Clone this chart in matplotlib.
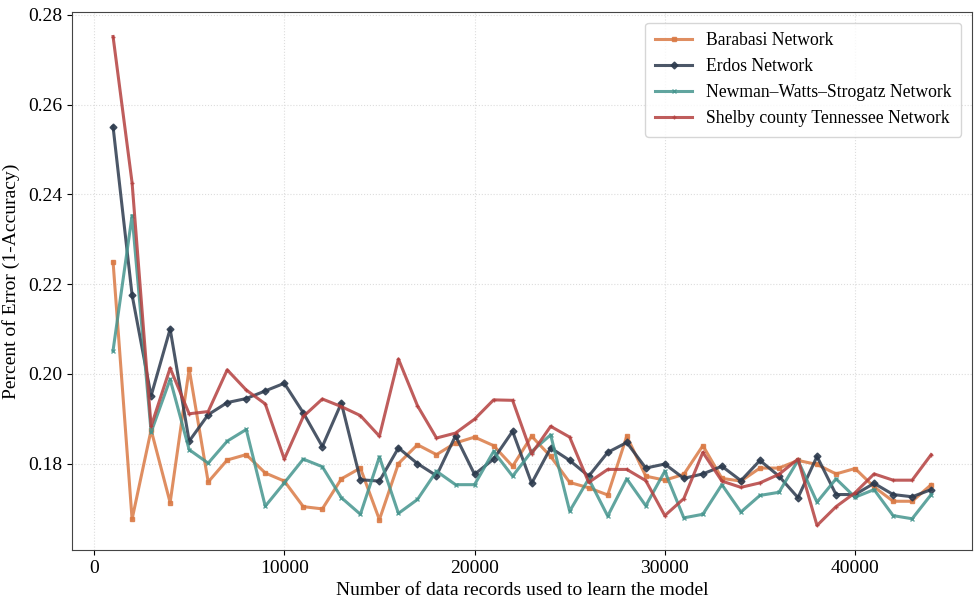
import matplotlib.pyplot as plt
import numpy as np

plt.rcParams['font.family'] = ['Liberation Serif', 'DejaVu Serif']

records = np.arange(1000, 45000, 1000)

barabasi = [0.225, 0.1676, 0.1875, 0.1713, 0.2011, 0.1759, 0.1808, 0.182, 0.1779, 0.1761,
            0.1704, 0.1699, 0.1766, 0.179, 0.1675, 0.180, 0.1842, 0.182, 0.1846, 0.1859,
            0.184, 0.1794, 0.1861, 0.1816, 0.1758, 0.1746, 0.173, 0.1861, 0.1772, 0.1763,
            0.1776, 0.184, 0.1767, 0.1761, 0.179, 0.179, 0.1807, 0.1798, 0.1777, 0.1789,
            0.1748, 0.1716, 0.1716, 0.1753]
erdos = [0.2551, 0.2176, 0.1951, 0.21, 0.185, 0.1909, 0.1936, 0.1945, 0.1962, 0.1979,
         0.1913, 0.1838, 0.1935, 0.1764, 0.1761, 0.1835, 0.18, 0.1773, 0.1862, 0.1776,
         0.181, 0.1872, 0.1756, 0.1835, 0.1807, 0.1772, 0.1825, 0.1847, 0.179, 0.1799,
         0.1767, 0.1777, 0.1794, 0.1762, 0.1807, 0.1772, 0.1724, 0.1816, 0.1731, 0.1731,
         0.1756, 0.1731, 0.1726, 0.1742]
newman = [0.2052, 0.2353, 0.187, 0.1988, 0.1831, 0.1801, 0.185, 0.1876, 0.1705, 0.1757,
          0.181, 0.1793, 0.1724, 0.1687, 0.1815, 0.1689, 0.172, 0.1783, 0.1753, 0.1753,
          0.1827, 0.1772, 0.1827, 0.1864, 0.1694, 0.1766, 0.1683, 0.1766, 0.1706, 0.1783,
          0.1679, 0.1687, 0.1753, 0.1692, 0.1729, 0.1736, 0.1807, 0.1714, 0.1766, 0.1725,
          0.1742, 0.1684, 0.1677, 0.1731]
shelby = [0.2752, 0.2426, 0.1883, 0.2013, 0.1911, 0.1916, 0.2009, 0.1964, 0.1933, 0.181,
          0.1905, 0.1944, 0.1927, 0.1907, 0.1861, 0.2033, 0.1929, 0.1857, 0.1868, 0.1899,
          0.1942, 0.1941, 0.1822, 0.1883, 0.1859, 0.1758, 0.1787, 0.1787, 0.1762, 0.1684,
          0.1722, 0.1825, 0.1761, 0.1747, 0.1757, 0.1776, 0.181, 0.1662, 0.1704, 0.1735,
          0.1777, 0.1763, 0.1763, 0.182]

fig, ax = plt.subplots(figsize=(9.75, 6.03), dpi=100)
ax.plot(records, barabasi, label="Barabasi Network", color="#DA7A45", marker="s",
        markersize=3.5, linewidth=2.2, alpha=0.85)
ax.plot(records, erdos, label="Erdos Network", color="#2C3A4D", marker="D",
        markersize=3.5, linewidth=2.2, alpha=0.85)
ax.plot(records, newman, label="Newman\u2013Watts\u2013Strogatz Network", color="#45958E",
        marker="x", markersize=3.5, linewidth=2.2, alpha=0.85)
ax.plot(records, shelby, label="Shelby county Tennessee Network", color="#B4403F",
        marker="+", markersize=3.5, linewidth=2.2, alpha=0.85)

ax.set_xlabel("Number of data records used to learn the model", fontsize=14)
ax.set_ylabel("Percent of Error (1-Accuracy)", fontsize=14, labelpad=6)
ax.tick_params(labelsize=14)
ax.set_yticks([0.18, 0.20, 0.22, 0.24, 0.26, 0.28])
ax.grid(True, linestyle=":", color="#DDDDDD", linewidth=0.8)
for s in ax.spines.values():
    s.set_color("#444444")
ax.legend(loc="upper right", fontsize=12.7, borderpad=0.55, handlelength=2.1,
          borderaxespad=0.6)
plt.subplots_adjust(left=0.074, right=0.997, top=0.98, bottom=0.088)
plt.savefig("out.png")
